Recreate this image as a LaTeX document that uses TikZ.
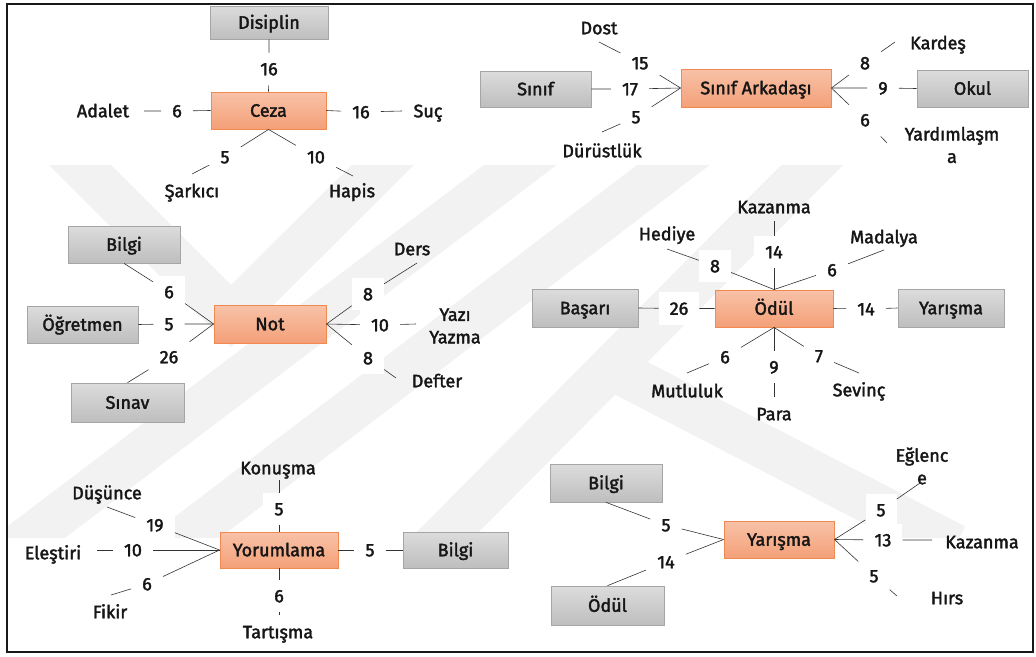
\documentclass[tikz,border=0pt]{standalone}
\usepackage{fontspec}
\setmainfont{Fira Sans}[FakeBold=2]
\definecolor{hubtop}{RGB}{248,194,168}
\definecolor{hubbot}{RGB}{244,160,120}
\definecolor{hubline}{RGB}{240,138,80}
\definecolor{leaftop}{RGB}{220,220,220}
\definecolor{leafbot}{RGB}{190,190,190}
\definecolor{leafline}{RGB}{165,165,165}
\definecolor{ink}{RGB}{22,22,22}
\definecolor{mark}{RGB}{242,242,242}
\tikzset{
  base/.style={font=\fontsize{18}{22.5}\selectfont, text=ink},
  oneline/.style={text height=12.5pt, text depth=0pt},
  hub/.style={base, oneline, draw=hubline, line width=0.9pt, top color=hubtop, bottom color=hubbot,
              minimum width=115pt, minimum height=37pt, inner sep=0pt},
  leaf/.style={base, oneline, draw=leafline, line width=0.7pt, top color=leaftop, bottom color=leafbot,
               minimum width=111pt, minimum height=37pt, inner sep=0pt},
  num/.style={base, oneline, fill=white, inner xsep=11pt, inner ysep=10pt},
  word/.style={base, oneline, inner sep=0pt},
  words/.style={base, inner sep=0pt, align=center},
  link/.style={draw=black!80, line width=0.6pt},
  band/.style={draw=mark, line width=44pt, line join=miter},
}
\begin{document}
\begin{tikzpicture}[x=1pt, y=-1pt]
\useasboundingbox (0,0) rectangle (1036,656);

% faint background emblem
\begin{scope}
  \clip (8,165) rectangle (1032,537);
  \draw[band] (-19,574) -- (569,128);
  \draw[band] (136,574) -- (722,128);
  \draw[band] (406,574) -- (849,128);
  \draw[band] (43,128) -- (231,316) -- (420,128);
  \draw[band] (600,362) -- (955,546);
\end{scope}

% outer frame
\draw[line width=2.5pt, black!90] (7,4) rectangle (1033,652);

% ---------- Ceza ----------
\node[leaf, minimum width=118pt, minimum height=33pt] (disiplin) at (269,22.5) {Disiplin};
\node[hub] (ceza) at (268.5,110.5) {Ceza};
\node[num] (c16a) at (269,69) {16};
\node[num] (c6) at (177,111) {6};
\node[num] (c16b) at (361,112) {16};
\node[num] (c5) at (225,157) {5};
\node[num] (c10) at (316,157) {10};
\node[word] (adalet) at (103,111) {Adalet};
\node[word] (suc) at (428,111) {Suç};
\node[word] (sarkici) at (192,191) {Şarkıcı};
\node[word] (hapis) at (352,191) {Hapis};
\coordinate (e-adalet) at (144,111);
\coordinate (e-suc) at (402,111);
\coordinate (e-sarkici) at (192,174);
\coordinate (e-hapis) at (353,176);
\draw[link] (ceza.north) -- (c16a) -- (disiplin.south);
\draw[link] (ceza.west) -- (c6) -- (e-adalet);
\draw[link] (ceza.east) -- (c16b) -- (e-suc);
\draw[link] (ceza.south) -- (c5) -- (e-sarkici);
\draw[link] (ceza.south) -- (c10) -- (e-hapis);

% ---------- Sınıf Arkadaşı ----------
\node[leaf, minimum height=36pt] (sinif) at (535.5,89) {Sınıf};
\node[hub, minimum width=150pt, minimum height=38pt] (sa) at (756,88) {Sınıf Arkadaşı};
\node[leaf] (okul) at (972.5,88.5) {Okul};
\node[num] (s15) at (640,63) {15};
\node[num] (s17) at (630,89) {17};
\node[num] (s5) at (636,117) {5};
\node[num] (s8) at (865,63) {8};
\node[num] (s9) at (883,88) {9};
\node[num] (s6) at (865,120) {6};
\node[word] (dost) at (599,28) {Dost};
\node[word] (durust) at (602,151) {Dürüstlük};
\node[word] (kardes) at (938,43) {Kardeş};
\node[words] (yardim) at (952,145) {Yardımlaşm\\a};
\coordinate (e-dost) at (599,42);
\coordinate (e-durust) at (602,132);
\coordinate (e-kardes) at (895,42);
\coordinate (e-yardim) at (887,143);
\draw[link] (sa.west) -- (s15) -- (e-dost);
\draw[link] (sa.west) -- (s17) -- (sinif.east);
\draw[link] (sa.west) -- (s5) -- (e-durust);
\draw[link] (sa.east) -- (s8) -- (e-kardes);
\draw[link] (sa.east) -- (s9) -- (okul.west);
\draw[link] (sa.east) -- (s6) -- (e-yardim);

% ---------- Not ----------
\node[leaf, minimum width=112pt] (bilgia) at (124,244.5) {Bilgi};
\node[leaf] (ogretmen) at (82.5,324.5) {Öğretmen};
\node[leaf, minimum width=113pt, minimum height=39pt] (sinav) at (127.5,402.5) {Sınav};
\node[hub, minimum width=112pt, minimum height=38pt] (not) at (270,324) {Not};
\node[num] (n6) at (169,292) {6};
\node[num] (n5) at (169,324) {5};
\node[num] (n26) at (169,357) {26};
\node[num] (n8a) at (368,294) {8};
\node[num] (n10) at (380,325) {10};
\node[num] (n8b) at (368,358) {8};
\node[word] (ders) at (412,249) {Ders};
\node[words] (yazi) at (455,326) {Yazı\\Yazma};
\node[word] (defter) at (437,381) {Defter};
\coordinate (e-ders) at (417,263);
\coordinate (e-yazi) at (416,324);
\coordinate (e-defter) at (396,378);
\draw[link] (not.west) -- (n6) -- (bilgia.south);
\draw[link] (not.west) -- (n5) -- (ogretmen.east);
\draw[link] (not.west) -- (n26) -- (sinav.north);
\draw[link] (not.east) -- (n8a) -- (e-ders);
\draw[link] (not.east) -- (n10) -- (e-yazi);
\draw[link] (not.east) -- (n8b) -- (e-defter);

% ---------- Ödül ----------
\node[leaf, minimum width=106pt, minimum height=38pt] (basari) at (585,308) {Başarı};
\node[hub, minimum width=118pt] (odul) at (774,308.5) {Ödül};
\node[leaf, minimum width=106pt, minimum height=38pt] (yarismaa) at (951,308) {Yarışma};
\node[num] (o26) at (679,308.5) {26};
\node[num] (o14r) at (866,309) {14};
\node[num] (o14t) at (774,252) {14};
\node[num] (o8) at (715,266) {8};
\node[num] (o6t) at (832,270) {6};
\node[num] (o6b) at (725,357) {6};
\node[num] (o9) at (774,367) {9};
\node[num] (o7) at (819,356) {7};
\node[word] (kazanmaa) at (774,207) {Kazanma};
\node[word] (hediye) at (667,234) {Hediye};
\node[word] (madalya) at (884,237) {Madalya};
\node[word] (mutluluk) at (687,391) {Mutluluk};
\node[word] (para) at (774,414) {Para};
\node[word] (sevinc) at (859,390) {Sevinç};
\coordinate (e-kaz) at (774,221);
\coordinate (e-hed) at (667,249);
\coordinate (e-mad) at (884,250);
\coordinate (e-mut) at (687,373);
\coordinate (e-para) at (774,397);
\coordinate (e-sev) at (859,373);
\draw[link] (odul.west) -- (o26) -- (basari.east);
\draw[link] (odul.east) -- (o14r) -- (yarismaa.west);
\draw[link] (odul.north) -- (o14t) -- (e-kaz);
\draw[link] (odul.north) -- (o8) -- (e-hed);
\draw[link] (odul.north) -- (o6t) -- (e-mad);
\draw[link] (odul.south) -- (o6b) -- (e-mut);
\draw[link] (odul.south) -- (o9) -- (e-para);
\draw[link] (odul.south) -- (o7) -- (e-sev);

% ---------- Yorumlama ----------
\node[hub, minimum width=118pt, minimum height=36pt] (yorum) at (279,550) {Yorumlama};
\node[leaf, minimum width=105pt, minimum height=36pt] (bilgib) at (455.5,550) {Bilgi};
\node[num] (y5t) at (279,509) {5};
\node[num] (y6b) at (279,596) {6};
\node[num] (y19) at (155,525) {19};
\node[num] (y10) at (133,550) {10};
\node[num] (y6l) at (147,584) {6};
\node[num] (y5r) at (370,550) {5};
\node[word] (konusma) at (278,468) {Konuşma};
\node[word] (tartisma) at (278,632) {Tartışma};
\node[word] (dusunce) at (107,493) {Düşünce};
\node[word] (elestiri) at (53,553) {Eleştiri};
\node[word] (fikir) at (110,612) {Fikir};
\coordinate (e-kon) at (279,480);
\coordinate (e-tar) at (279,615);
\coordinate (e-dus) at (107,507);
\coordinate (e-ele) at (97,550);
\coordinate (e-fik) at (111,595);
\draw[link] (yorum.north) -- (y5t) -- (e-kon);
\draw[link] (yorum.south) -- (y6b) -- (e-tar);
\draw[link] (yorum.west) -- (y19) -- (e-dus);
\draw[link] (yorum.west) -- (y10) -- (e-ele);
\draw[link] (yorum.west) -- (y6l) -- (e-fik);
\draw[link] (yorum.east) -- (y5r) -- (bilgib.west);

% ---------- Yarışma ----------
\node[leaf, minimum width=112pt, minimum height=38pt] (bilgic) at (606,483) {Bilgi};
\node[leaf, minimum width=113pt, minimum height=39pt] (odulb) at (607.5,605.5) {Ödül};
\node[hub, minimum width=110pt] (yarismab) at (779,539.5) {Yarışma};
\node[num] (r5a) at (666,525) {5};
\node[num] (r14) at (666,562) {14};
\node[num] (r5b) at (881,510) {5};
\node[num] (r13) at (883,540) {13};
\node[num] (r5c) at (874,576) {5};
\node[words] (eglence) at (922,466) {Eğlenc\\e};
\node[word] (kazanmab) at (982,542) {Kazanma};
\node[word] (hirs) at (947,598) {Hırs};
\coordinate (e-egl) at (920,483);
\coordinate (e-kaz2) at (932,540);
\coordinate (e-hirs) at (897,596);
\draw[link] (yarismab.west) -- (r5a) -- (bilgic.south);
\draw[link] (yarismab.west) -- (r14) -- (odulb.north);
\draw[link] (yarismab.east) -- (r5b) -- (e-egl);
\draw[link] (yarismab.east) -- (r13) -- (e-kaz2);
\draw[link] (yarismab.east) -- (r5c) -- (e-hirs);
\end{tikzpicture}
\end{document}
